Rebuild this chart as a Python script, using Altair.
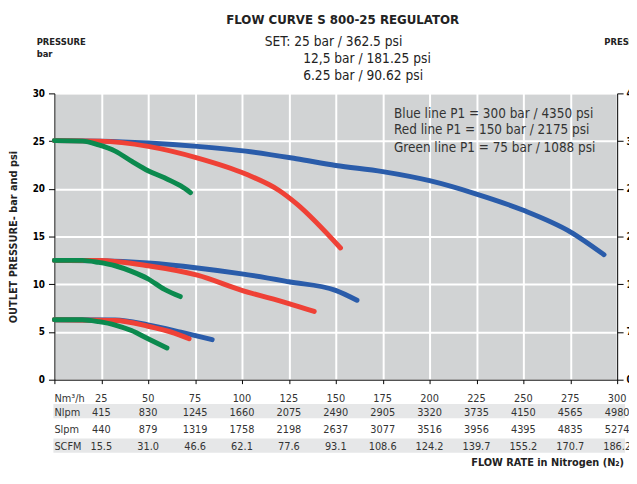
import altair as alt
import pandas as pd

# ---------------- data ----------------
flow_ticks = [25, 50, 75, 100, 125, 150, 175, 200, 225, 250, 275, 300]
nlpm = [415, 830, 1245, 1660, 2075, 2490, 2905, 3320, 3735, 4150, 4565, 4980]
slpm = [440, 879, 1319, 1758, 2198, 2637, 3077, 3516, 3956, 4395, 4835, 5274]
scfm = ["15.5", "31.0", "46.6", "62.1", "77.6", "93.1", "108.6", "124.2", "139.7", "155.2", "170.7", "186.2"]
row_labels = ["Nm³/h", "Nlpm", "Slpm", "SCFM"]

# curves: flow (Nm3/h) and outlet pressure (bar)
blue_25_x = [0, 25, 50, 76, 102, 129, 150, 175, 200, 225, 250, 275, 293]
blue_25_y = [25.05, 25.0, 24.8, 24.45, 23.95, 23.15, 22.45, 21.8, 20.85, 19.45, 17.75, 15.5, 13.1]
red_25_x = [0, 24, 50, 76, 102, 120, 129, 152.5]
red_25_y = [25.05, 25.0, 24.45, 23.25, 21.55, 19.8, 18.45, 13.8]
green_25_x = [0, 15, 23.6, 32.4, 41.1, 49.9, 58.7, 67.4, 72.6]
green_25_y = [25.05, 25.0, 24.6, 23.95, 22.9, 21.9, 21.15, 20.3, 19.6]

blue_12_x = [0, 23.6, 49.9, 76.2, 99.9, 125, 149.9, 161.3]
blue_12_y = [12.5, 12.46, 12.22, 11.71, 11.09, 10.26, 9.36, 8.32]
red_12_x = [0, 23.6, 49.9, 76.2, 99.9, 125, 138.5]
red_12_y = [12.5, 12.49, 11.94, 10.95, 9.36, 7.98, 7.15]
green_12_x = [0, 14.8, 23.6, 32.4, 41.1, 49.9, 58.7, 67.1]
green_12_y = [12.5, 12.5, 12.29, 11.94, 11.35, 10.57, 9.46, 8.71]

blue_6_x = [0, 32.4, 49.9, 67.4, 84.1]
blue_6_y = [6.28, 6.25, 5.74, 4.98, 4.19]
red_6_x = [0, 32.4, 49.9, 63.9, 71.8]
red_6_y = [6.28, 6.2, 5.6, 4.88, 4.29]
green_6_x = [0, 14.8, 23.6, 32.4, 41.1, 49.9, 60.0]
green_6_y = [6.28, 6.28, 6.08, 5.73, 5.15, 4.29, 3.33]

legend_lines = [
    "Blue line P1 = 300 bar / 4350 psi",
    "Red line P1 = 150 bar / 2175 psi",
    "Green line P1 = 75 bar / 1088 psi",
]

# ---------------- build tables ----------------
curves = [
    ("blue_25", "blue", blue_25_x, blue_25_y),
    ("red_25", "red", red_25_x, red_25_y),
    ("green_25", "green", green_25_x, green_25_y),
    ("blue_12", "blue", blue_12_x, blue_12_y),
    ("red_12", "red", red_12_x, red_12_y),
    ("green_12", "green", green_12_x, green_12_y),
    ("blue_6", "blue", blue_6_x, blue_6_y),
    ("red_6", "red", red_6_x, red_6_y),
    ("green_6", "green", green_6_x, green_6_y),
]
rows = []
for name, col, xs, ys in curves:
    for i, (a, b) in enumerate(zip(xs, ys)):
        rows.append({"series": name, "color": col, "flow": a, "bar": b, "i": i})
df = pd.DataFrame(rows)

table = pd.DataFrame({
    "flow": flow_ticks,
    "nm3": [str(v) for v in flow_ticks],
    "nlpm": [str(v) for v in nlpm],
    "slpm": [str(v) for v in slpm],
    "scfm": scfm,
})

FONT = "Liberation Sans Narrow, DejaVu Sans Condensed, Roboto, sans-serif"
W, H = 570, 290

xscale = alt.Scale(domain=[0, 300], nice=False)
yscale = alt.Scale(domain=[0, 30], nice=False)
pix = alt.Scale(domain=[0, H], range=[0, H])

lines = alt.Chart(df).mark_line(strokeWidth=5, strokeCap="round", strokeJoin="round",
                                interpolate="monotone").encode(
    x=alt.X("flow:Q", scale=xscale,
            axis=alt.Axis(values=[0] + flow_ticks, labels=False, title=None, grid=True,
                          gridColor="white", gridWidth=2, tickSize=4, tickColor="black",
                          domainColor="black", domainWidth=1)),
    y=alt.Y("bar:Q", scale=yscale,
            axis=alt.Axis(orient="left", values=[0, 5, 10, 15, 20, 25, 30], title=None, grid=True,
                          gridColor="white", gridWidth=2, tickSize=6, tickColor="black",
                          domainColor="black", labelFont=FONT, labelFontWeight="bold",
                          labelFontSize=10, labelColor="black", labelPadding=4)),
    color=alt.Color("color:N", scale=alt.Scale(domain=["blue", "red", "green"],
                                               range=["#2a5caa", "#ef4136", "#0b8a4e"]), legend=None),
    detail="series:N",
    order="i:Q",
)

right_axis = alt.Chart(df).mark_point(opacity=0).encode(
    x=alt.X("flow:Q", scale=xscale),
    y=alt.Y("bar:Q", scale=yscale,
            axis=alt.Axis(orient="right", values=[0, 5, 10, 15, 20, 25, 30], title=None, grid=False,
                          tickSize=6, tickColor="black", domainColor="black",
                          labelExpr="format(datum.value*14.5, '')",
                          labelFont=FONT, labelFontWeight="bold", labelFontSize=10,
                          labelColor="black", labelPadding=3)),
)

# table bands
bands = pd.DataFrame({"y": [314.5, 349.5], "y2": [329, 364]})
band_layer = alt.Chart(bands).mark_rect(color="#e6e7e8").encode(
    x=alt.value(-1), x2=alt.value(578),
    y=alt.Y("y:Q", scale=pix, axis=None),
    y2="y2:Q",
)

row_y = [310, 323.5, 341, 358.5]
fields = ["nm3", "nlpm", "slpm", "scfm"]
table_layers = []
for f, yy in zip(fields, row_y):
    table_layers.append(
        alt.Chart(table).mark_text(font=FONT, fontSize=11, color="#333333", align="center",
                                   baseline="middle").encode(
            x=alt.X("flow:Q", scale=xscale), y=alt.value(yy), text=f"{f}:N")
    )

labels_df = pd.DataFrame({"lab": row_labels, "y": row_y})
row_label_layer = alt.Chart(labels_df).mark_text(font=FONT, fontSize=11, color="#333333",
                                                 align="left", baseline="middle").encode(
    x=alt.value(0), y=alt.Y("y:Q", scale=pix, axis=None), text="lab:N"
)


def txt(s, x, y, size, weight="normal", align="left", color="#222222", angle=0):
    d = pd.DataFrame({"t": [s]})
    kw = dict(font=FONT, fontSize=size, fontWeight=weight, align=align, baseline="middle", color=color)
    if angle:
        kw["angle"] = angle
    return alt.Chart(d).mark_text(**kw).encode(x=alt.value(x), y=alt.value(y), text="t:N")


texts = [
    txt("FLOW CURVE S 800-25 REGULATOR", 292, -74.5, 13.3, "bold", "center", "#222222"),
    txt("SET: 25 bar / 362.5 psi", 213, -51.5, 13.8, "normal", "left", "#222222"),
    txt("12,5 bar / 181.25 psi", 252, -34.5, 13.8, "normal", "left", "#222222"),
    txt("6.25 bar / 90.62 psi", 252, -17.5, 13.8, "normal", "left", "#222222"),
    txt("PRESSURE", -18, -52, 9.5, "bold", "left", "#222222"),
    txt("bar", -18, -40, 9.5, "bold", "left", "#222222"),
    txt("PRESSURE", 557, -52, 9.5, "bold", "left", "#222222"),
    txt("OUTLET PRESSURE- bar and psi", -41, 145.5, 11, "bold", "center", "#222222", 270),
    txt(legend_lines[0], 344, 20.5, 13.6, "normal", "left", "#333333"),
    txt(legend_lines[1], 344, 37.5, 13.6, "normal", "left", "#333333"),
    txt(legend_lines[2], 344, 55.5, 13.6, "normal", "left", "#333333"),
    txt("FLOW RATE in Nitrogen (N₂)", 577, 374.5, 11, "bold", "right", "#222222"),
]

chart = alt.layer(
    band_layer, lines, right_axis, *table_layers, row_label_layer, *texts
).resolve_scale(y="independent").resolve_axis(y="independent").properties(
    width=W, height=H,
    padding={"left": 47, "top": 83.5, "right": 12, "bottom": 90},
    autosize=alt.AutoSizeParams(type="none"),
).configure_view(fill="#d1d3d4", stroke="#8a8a8a", strokeWidth=1)

chart.save("out.html", embed_options={"renderer": "svg", "actions": False})
